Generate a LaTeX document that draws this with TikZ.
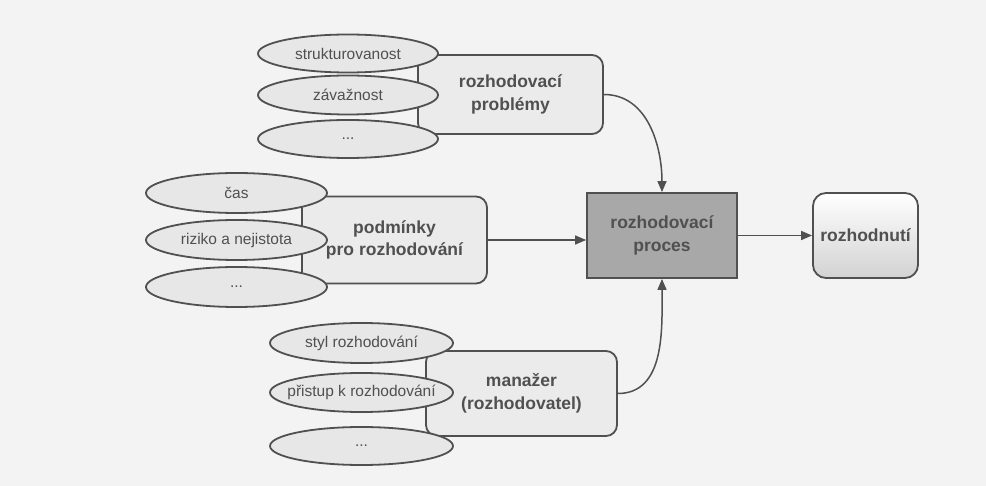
\documentclass[tikz,border=0pt]{standalone}
\usepackage{fontspec}
\setmainfont{Liberation Sans}
\usetikzlibrary{shapes.geometric,arrows.meta}
\definecolor{ink}{HTML}{505050}
\definecolor{boxfill}{HTML}{EBEBEB}
\definecolor{ellfill}{HTML}{E7E7E7}
\definecolor{procfill}{HTML}{A8A8A8}
\definecolor{bg}{HTML}{F3F3F3}
\begin{document}
\begin{tikzpicture}[x=1pt,y=-1pt,
  ell/.style={ellipse, draw=ink, line width=1.8pt, fill=ellfill, inner sep=0pt,
    text=ink, font=\fontsize{15.5}{18}\selectfont},
  grpbox/.style={rectangle, rounded corners=11pt, draw=ink, line width=1.8pt,
    fill=boxfill, text=ink, font=\bfseries\fontsize{17.5}{22.5}\selectfont,
    align=center, inner sep=0pt},
  procbox/.style={rectangle, draw=ink, line width=1.8pt, fill=procfill,
    text=ink, font=\bfseries\fontsize{17.5}{22.5}\selectfont, align=center, inner sep=0pt},
  resbox/.style={rectangle, rounded corners=13pt, draw=ink, line width=1.8pt,
    top color=white, bottom color=gray!35, text=ink,
    font=\bfseries\fontsize{17.5}{22.5}\selectfont, align=center, inner sep=0pt},
  conn/.style={draw=ink, line width=1.5pt, -{Triangle[length=11pt,width=9pt]}}
]
\fill[bg] (0,0) rectangle (986,486);
\useasboundingbox (0,0) rectangle (986,486);

% group boxes
\node[grpbox, minimum width=185pt, minimum height=79pt] (prob) at (510.5,94.5) {rozhodovací\\problémy};
\node[grpbox, minimum width=185pt, minimum height=87pt] (pod) at (394.5,240) {podmínky\\pro rozhodování};
\node[grpbox, minimum width=191pt, minimum height=85pt] (man) at (521.5,393.5) {manažer\\(rozhodovatel)};

% central and result boxes
\node[procbox, minimum width=150pt, minimum height=85pt] (proc) at (662,235.5) {rozhodovací\\proces};
\node[resbox, minimum width=105pt, minimum height=85pt] (res) at (865.5,235.5) {rozhodnutí};

% ellipses, top group
\node[ell, minimum width=180pt, minimum height=38pt] (t1) at (348,53.5) {\makebox[0pt]{strukturovanost}};
\node[ell, minimum width=180pt, minimum height=39pt] (t2) at (348,95) {\makebox[0pt]{závažnost}};
\node[ell, minimum width=180pt, minimum height=38pt] (t3) at (348,139) {\makebox[0pt]{...}};

% ellipses, middle group
\node[ell, minimum width=181pt, minimum height=40pt] (m1) at (236.5,193) {\makebox[0pt]{čas}};
\node[ell, minimum width=181pt, minimum height=40pt] (m2) at (236.5,240) {\makebox[0pt]{riziko a nejistota}};
\node[ell, minimum width=181pt, minimum height=40pt] (m3) at (236.5,287) {\makebox[0pt]{...}};

% ellipses, bottom group
\node[ell, minimum width=183pt, minimum height=40pt] (b1) at (361.5,343) {\makebox[0pt]{styl rozhodování}};
\node[ell, minimum width=183pt, minimum height=39pt] (b2) at (361.5,392.5) {\makebox[0pt]{přistup k rozhodování}};
\node[ell, minimum width=183pt, minimum height=38pt] (b3) at (361.5,446) {\makebox[0pt]{...}};

% connectors
\draw[conn] (prob.east) to[out=0,in=90] (proc.north);
\draw[conn] (pod.east) -- (pod.east -| proc.west);
\draw[conn] (man.east) to[out=0,in=-90] (proc.south);
\draw[conn] (proc.east) -- (res.west);
\end{tikzpicture}
\end{document}
